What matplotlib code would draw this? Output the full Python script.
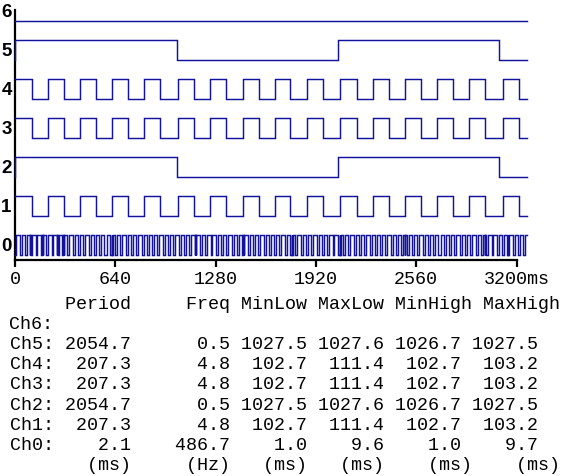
import matplotlib
matplotlib.use("Agg")
import matplotlib.pyplot as plt
from matplotlib.transforms import blended_transform_factory

# ---------------- data ----------------
t_end = 3265  # ms, end of capture window

# toggle times (ms) for each channel
ch6_edges = []
ch5_edges = [0, 1031, 2059, 3086]
ch2_edges = [0, 1031, 2059, 3086]
ch4_edges = [110, 213, 315, 417, 519, 622, 724, 826, 928, 1039, 1143, 1246,
             1348, 1452, 1554, 1656, 1757, 1863, 1965, 2076, 2182, 2285, 2384,
             2487, 2591, 2693, 2796, 2895, 3000, 3115, 3217]
ch3_edges = ch4_edges
ch1_edges = ch4_edges

ch0_rise = [8, 42, 75, 110, 143, 178, 211, 245, 279, 313, 346, 381, 414, 448,
            482, 516, 549, 584, 617, 651, 685, 719, 752, 787, 820, 854, 888,
            922, 955, 990, 1023, 1057, 1091, 1125, 1158, 1193, 1226, 1260,
            1294, 1328, 1361, 1396, 1429, 1463, 1497, 1531, 1564, 1599, 1632,
            1666, 1700, 1734, 1767, 1802, 1835, 1869, 1903, 1937, 1970, 2005,
            2038, 2072, 2106, 2140, 2173, 2208, 2241, 2275, 2309, 2343, 2376,
            2411, 2444, 2478, 2512, 2546, 2579, 2614, 2647, 2681, 2715, 2749,
            2782, 2817, 2850, 2884, 2918, 2952, 2985, 3020, 3053, 3087, 3121,
            3155, 3188, 3223, 3256]
ch0_fall = [29, 63, 97, 131, 165, 199, 233, 266, 300, 334, 368, 402, 436, 469,
            503, 537, 571, 605, 639, 672, 706, 740, 774, 808, 842, 875, 909,
            943, 977, 1011, 1045, 1078, 1112, 1146, 1180, 1214, 1248, 1281,
            1315, 1349, 1383, 1417, 1451, 1484, 1518, 1552, 1586, 1620, 1654,
            1687, 1721, 1755, 1789, 1823, 1857, 1890, 1924, 1958, 1992, 2026,
            2060, 2093, 2127, 2161, 2195, 2229, 2263, 2296, 2330, 2364, 2398,
            2432, 2466, 2499, 2533, 2567, 2601, 2635, 2669, 2702, 2736, 2770,
            2804, 2838, 2872, 2905, 2939, 2973, 3007, 3041, 3075, 3108, 3142,
            3176, 3210, 3244]
ch0_glitch = [96, 100, 172, 176, 268, 272, 306, 310, 619, 623, 1148, 1152,
              1454, 1458, 1767, 1771, 2073, 2077, 2487, 2491, 2768, 2772,
              2998, 3002, 3144, 3148]

start_high = [False, True, False, True, True, False, False]  # ch0..ch6

x_ticks = [0, 640, 1280, 1920, 2560, 3200]
x_tick_labels = ["0", "640", "1280", "1920", "2560", "3200ms"]

col_names = ["Period", "Freq", "MinLow", "MaxLow", "MinHigh", "MaxHigh"]
col_units = ["(ms)", "(Hz)", "(ms)", "(ms)", "(ms)", "(ms)"]
row_names = ["Ch6:", "Ch5:", "Ch4:", "Ch3:", "Ch2:", "Ch1:", "Ch0:"]
period = [None, 2054.7, 207.3, 207.3, 2054.7, 207.3, 2.1]
freq = [None, 0.5, 4.8, 4.8, 0.5, 4.8, 486.7]
min_low = [None, 1027.5, 102.7, 102.7, 1027.5, 102.7, 1.0]
max_low = [None, 1027.6, 111.4, 111.4, 1027.6, 111.4, 9.6]
min_high = [None, 1026.7, 102.7, 102.7, 1026.7, 102.7, 1.0]
max_high = [None, 1027.5, 103.2, 103.2, 1027.5, 103.2, 9.7]

# ---------------- figure ----------------
W, H = 568, 476
fig = plt.figure(figsize=(W / 100, H / 100), dpi=100)

ax_left, ax_right = 15, 526.7
ax_bottom_px, ax_top_px = 260, 10
px_per_unit = 39.0
y_bottom = (255 - ax_bottom_px) / px_per_unit
y_top = (255 - ax_top_px) / px_per_unit
ax = fig.add_axes([ax_left / W, 1 - ax_bottom_px / H,
                   (ax_right - ax_left) / W, (ax_bottom_px - ax_top_px) / H])
ax.set_xlim(0, t_end)
ax.set_ylim(y_bottom, y_top)

line_color = "#12129c"
amp = 0.5

def draw_channel(k, edges, high):
    times = [0] + list(edges) + [t_end]
    levels = []
    lv = high
    levels.append(lv)
    for _ in edges:
        lv = not lv
        levels.append(lv)
    levels.append(lv)
    ys = [k + (amp if v else 0) for v in levels]
    ax.step(times, ys, where="post", color=line_color, lw=1.05,
            solid_joinstyle="miter", zorder=3, clip_on=False)

ch0_edges = sorted(ch0_rise + ch0_fall + ch0_glitch)
all_edges = [ch0_edges, ch1_edges, ch2_edges, ch3_edges, ch4_edges,
             ch5_edges, ch6_edges]
for k, e in enumerate(all_edges):
    draw_channel(k, e, start_high[k])

# channel labels
trans = blended_transform_factory(fig.transFigure, ax.transData)
for k in range(7):
    ax.text(6.5 / W, k + 0.22, str(k), transform=trans, ha="center",
            va="center", fontsize=13.5, fontweight="bold",
            family="Liberation Sans", color="black")

# axes styling
for s in ["top", "right"]:
    ax.spines[s].set_visible(False)
ax.spines["left"].set_linewidth(1.6)
ax.spines["bottom"].set_linewidth(1.6)
ax.spines["bottom"].set_bounds(0, 3200)
ax.set_yticks([])
ax.set_xticks(x_ticks)
ax.set_xticklabels(x_tick_labels, family="Liberation Mono", fontsize=13.2)
ax.tick_params(axis="x", direction="out", length=5, width=1.6, pad=2.6,
               colors="black")
ax.patch.set_visible(False)

# statistics table
mono = dict(family="Liberation Mono", fontsize=13.2, color="black",
            va="baseline", ha="left")
widths_hdr = [11, 9, 7, 7, 8, 8]
header = "".join(n.rjust(w) for n, w in zip(col_names, widths_hdr))
units = "".join(u.rjust(w) for u, w in zip(col_units, widths_hdr))
lines = [header]
for i, name in enumerate(row_names):
    if period[i] is None:
        lines.append(name)
    else:
        lines.append(name + f"{period[i]:>7.1f}{freq[i]:>9.1f}{min_low[i]:>7.1f}"
                     f"{max_low[i]:>7.1f}{min_high[i]:>7.1f}{max_high[i]:>7.1f}")
lines.append(units)

x0 = 9.5
for i, ln in enumerate(lines):
    y_px = 309 + 20.1 * i
    fig.text(x0 / W, 1 - y_px / H, ln, **mono)

fig.savefig("out.png", dpi=100)
